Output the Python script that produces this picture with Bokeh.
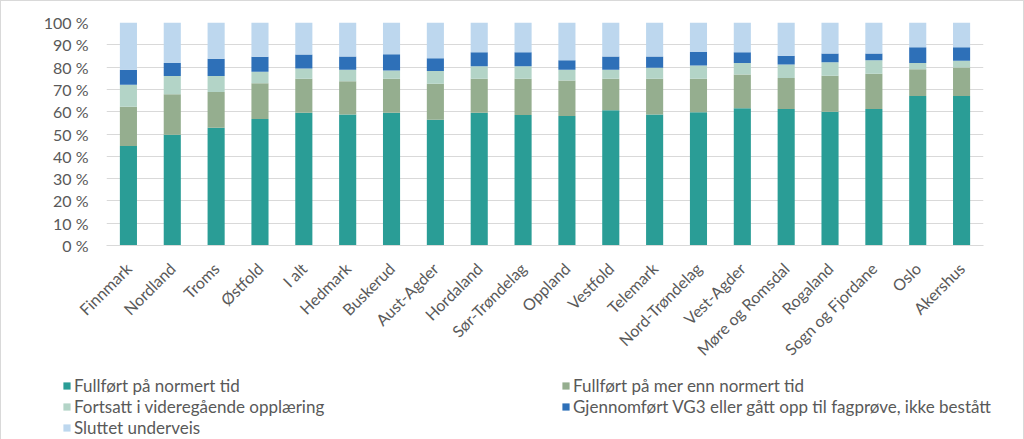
from bokeh.plotting import figure
from bokeh.layouts import column
from bokeh.models import ColumnDataSource, FactorRange, Legend, LegendItem, PrintfTickFormatter, FixedTicker
from bokeh.embed import file_html
from bokeh.resources import INLINE
import math

categories = ["Finnmark", "Nordland", "Troms", "Østfold", "I alt", "Hedmark", "Buskerud",
              "Aust-Agder", "Hordaland", "Sør-Trøndelag", "Oppland", "Vestfold", "Telemark",
              "Nord-Trøndelag", "Vest-Agder", "Møre og Romsdal", "Rogaland", "Sogn og Fjordane",
              "Oslo", "Akershus"]
fullfort_normert = [44.6, 49.7, 52.8, 56.7, 59.5, 58.8, 59.5, 56.4, 59.5, 58.5, 58.1, 60.7, 58.8,
                    59.8, 61.5, 61.2, 60.0, 61.2, 67.0, 67.0]
fullfort_mer = [17.6, 18.1, 16.0, 16.1, 15.3, 14.9, 15.3, 16.1, 15.3, 16.3, 15.9, 14.1, 16.0,
                15.0, 15.2, 13.9, 16.1, 15.8, 12.0, 12.8]
fortsatt = [9.9, 8.2, 7.2, 5.1, 4.6, 5.1, 3.7, 5.7, 5.6, 5.6, 4.8, 4.0, 4.9,
            5.9, 5.1, 6.1, 6.1, 6.1, 2.8, 3.0]
gjennomfort = [6.7, 5.8, 7.7, 6.7, 6.3, 6.0, 7.3, 5.8, 6.3, 6.3, 4.3, 6.0, 5.1,
               6.1, 4.9, 3.9, 3.9, 3.0, 7.1, 6.1]
sluttet = [21.2, 18.2, 16.3, 15.4, 14.3, 15.2, 14.2, 16.0, 13.3, 13.3, 16.9, 15.2, 15.2,
           13.2, 13.3, 14.9, 13.9, 13.9, 11.1, 11.1]

series_names = ["Fullført på normert tid", "Fullført på mer enn normert tid",
                "Fortsatt i videregående opplæring",
                "Gjennomført VG3 eller gått opp til fagprøve, ikke bestått",
                "Sluttet underveis"]
colors = ["#2A9D96", "#95AE8F", "#B3D4C7", "#2E70B8", "#BDD7EE"]

keys = ["s0", "s1", "s2", "s3", "s4"]
source = ColumnDataSource(data=dict(cat=categories, s0=fullfort_normert, s1=fullfort_mer,
                                    s2=fortsatt, s3=gjennomfort, s4=sluttet))

FONT = "Lato"
TXT = "#595959"

# --- main chart ---
p = figure(x_range=FactorRange(*categories, range_padding=0), y_range=(0, 100),
           frame_width=877, frame_height=223, output_backend="svg", toolbar_location=None,
           min_border_left=105, min_border_right=40, min_border_top=21, min_border_bottom=120)

renderers = p.vbar_stack(keys, x="cat", width=0.39, color=colors, source=source, line_width=0)

p.outline_line_color = None
p.xgrid.grid_line_color = None
p.ygrid.grid_line_color = "#d9d9d9"
p.ygrid.grid_line_width = 1

p.yaxis.ticker = FixedTicker(ticks=list(range(0, 101, 10)))
p.yaxis.formatter = PrintfTickFormatter(format="%d %%")
p.yaxis.axis_line_color = None
p.yaxis.major_tick_line_color = None
p.yaxis.minor_tick_line_color = None
p.yaxis.major_label_text_font = FONT
p.yaxis.major_label_text_font_size = "16px"
p.yaxis.major_label_text_color = TXT
p.yaxis.major_label_standoff = 12

p.xaxis.axis_line_color = "#d9d9d9"
p.xaxis.major_tick_line_color = None
p.xaxis.minor_tick_line_color = None
p.xaxis.major_label_orientation = math.pi / 4
p.xaxis.major_label_text_font = FONT
p.xaxis.major_label_text_font_size = "16px"
p.xaxis.major_label_text_color = TXT
p.xaxis.major_label_standoff = 14

# --- legend strip (off-range proxy glyphs only supply legend swatches) ---
lg = figure(x_range=(0, 1), y_range=(0, 1), frame_width=1022, frame_height=72,
            output_backend="svg", toolbar_location=None,
            min_border_left=0, min_border_right=0, min_border_top=0, min_border_bottom=0)
lg.axis.visible = False
lg.grid.visible = False
lg.outline_line_color = None
proxy = ColumnDataSource(data=dict(x=[5], top=[5]))
legend_renderers = [lg.vbar(x="x", top="top", width=0.1, color=c, line_width=0, source=proxy)
                    for c in colors]

items = [LegendItem(label=n, renderers=[r]) for n, r in zip(series_names, legend_renderers)]
legend = Legend(items=items, ncols=2, orientation="horizontal", label_width=487,
                glyph_width=9, glyph_height=9, label_standoff=3,
                label_text_font=FONT, label_text_font_size="17px",
                label_text_color=TXT, spacing=0, label_height=20, padding=0, margin=0,
                border_line_color=None, background_fill_alpha=0, location=(61, 2))
lg.add_layout(legend, "center")

layout = column(p, lg, spacing=0, styles={"border": "1px solid #d9d9d9"})

open("out.html", "w").write(file_html(layout, INLINE))
